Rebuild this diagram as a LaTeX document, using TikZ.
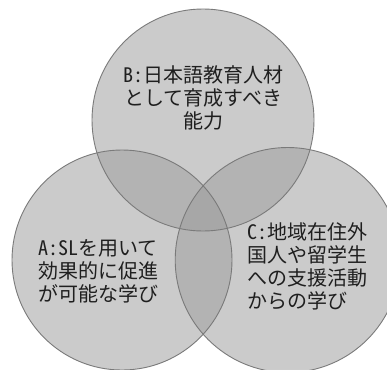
\documentclass[tikz,border=0pt]{standalone}
\usepackage{fontspec}
\newfontfamily\jp[RawFeature=+hwid]{Noto Sans CJK JP}
\definecolor{vennfill}{gray}{0.62}
\definecolor{rimc}{gray}{0.48}
\definecolor{txtc}{gray}{0.12}
\begin{document}
\begin{tikzpicture}[x=1pt,y=-1pt,
  venn/.style={circle, inner sep=0pt, fill=vennfill, fill opacity=0.53},
  rim/.style={draw=rimc, line width=0.9pt},
  label/.style={font=\jp\fontsize{20}{23}\selectfont, text=txtc, inner sep=0pt}]
\useasboundingbox (0,0) rectangle (387,369);
\clip (0,0) rectangle (387,369);
\fill[white] (0,0) rectangle (387,369);
% circles
\node[venn, minimum size=222pt] (B) at (203,120) {};
\node[venn, minimum size=220pt] (A) at (122,260) {};
\node[venn, minimum size=225pt] (C) at (287.7,260) {};
\draw[rim] (B.center) circle[radius=111pt];
\draw[rim] (A.center) circle[radius=110pt];
\draw[rim] (C.center) circle[radius=112.5pt];
% texts
\node[label, align=center] (tB) at (203,98) {B:日本語教育人材\\として育成すべき\\能力};
\node[label, align=left] (tA) at (98,271) {A:SLを用いて\\効果的に促進\\が可能な学び};
\node[label, align=left, anchor=west] (tC) at (247,266) {C:地域在住外\\国人や留学生\\への支援活動\\からの学び};
\end{tikzpicture}
\end{document}
